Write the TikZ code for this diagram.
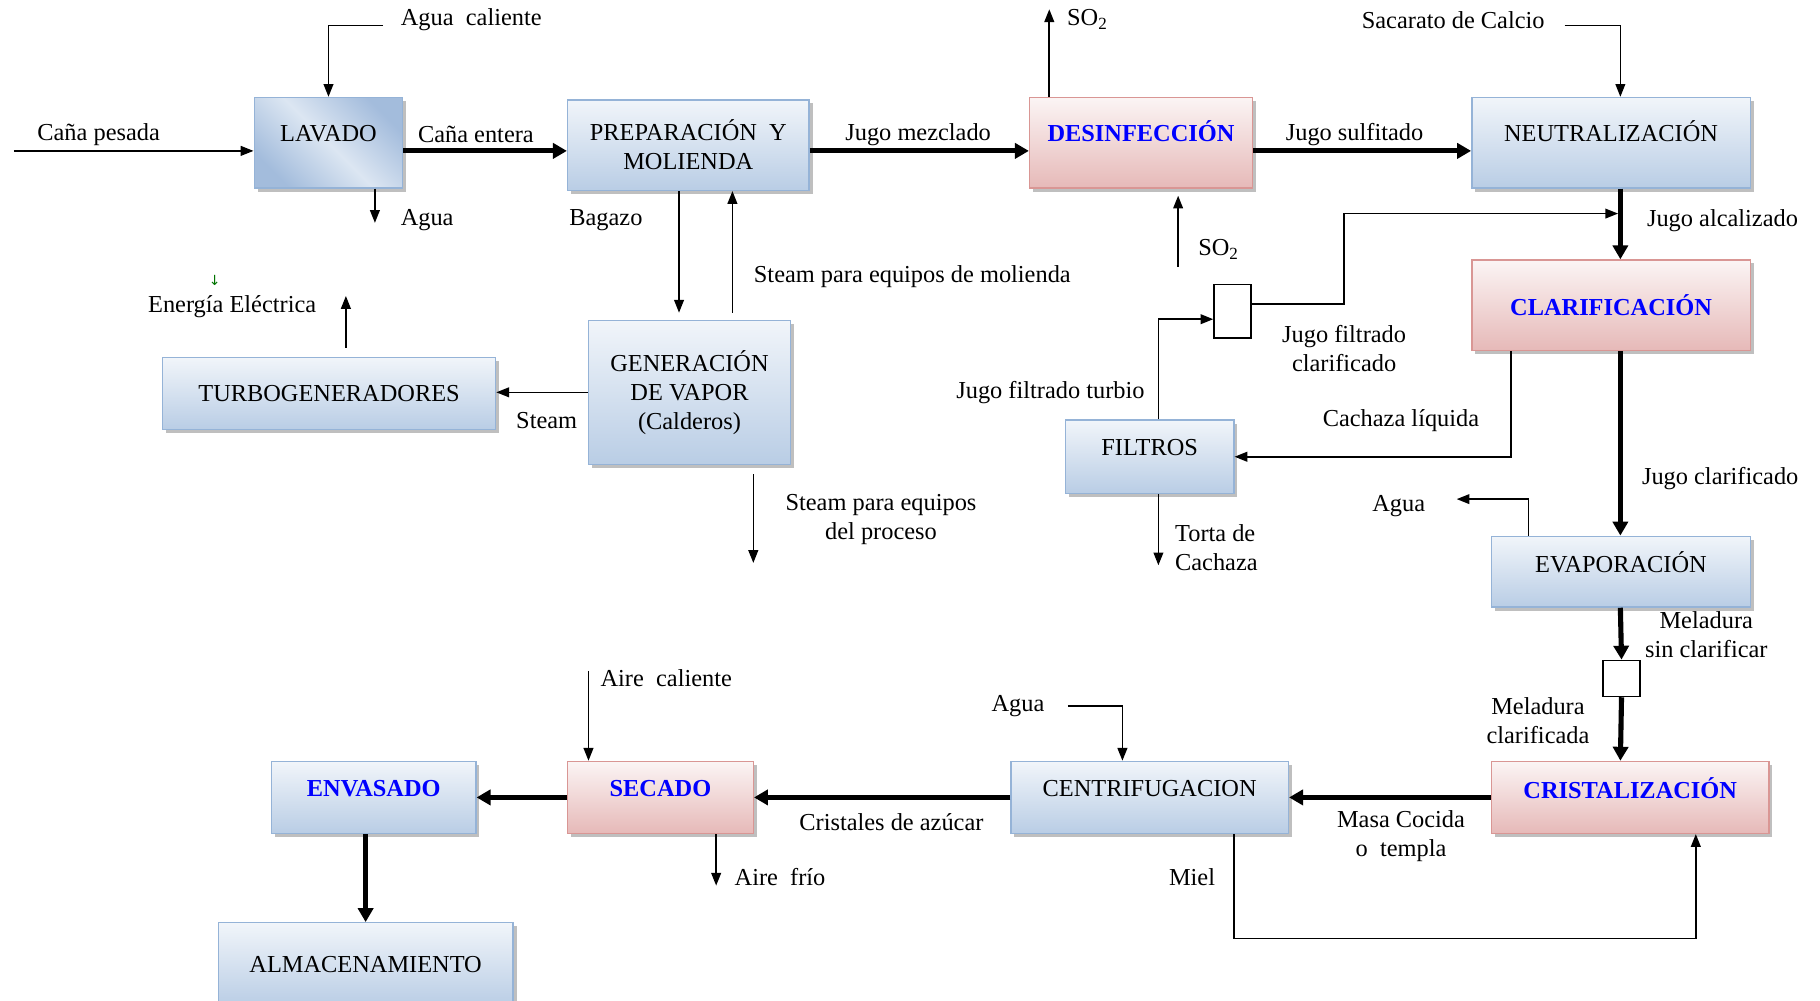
\documentclass[tikz,border=0pt]{standalone}
\usepackage{fontspec}
\setmainfont{Liberation Serif}
\newfontfamily\symfont{DejaVu Sans}
\usepackage{xcolor}
\usepackage{tikz}
\usetikzlibrary{calc}
\usetikzlibrary{shadows}
\usetikzlibrary{arrows.meta}

\definecolor{boxblue}{HTML}{B9CDE5}
\definecolor{lineblue}{HTML}{95B3D7}
\definecolor{boxpink}{HTML}{E6B9B8}
\definecolor{linepink}{HTML}{D99694}
\definecolor{washlight}{HTML}{DCE6F2}
\definecolor{washdark}{HTML}{A3BCDC}

\begin{document}
\begin{tikzpicture}[x=0.5pt, y=-0.5pt, font=\fontsize{10.5}{12.5}\selectfont]
        \tikzstyle{proc} = [rectangle, draw=lineblue, line width=0.6pt, top color=white!80!boxblue, bottom color=boxblue, drop shadow={shadow xshift=1.5pt, shadow yshift=-1.5pt, fill=black!50, opacity=0.5}, align=center, inner sep=0pt]
        \tikzstyle{hot} = [proc, draw=linepink, top color=white!85!boxpink, bottom color=boxpink]
        \tikzstyle{key} = [text=blue, font=\fontsize{10.5}{12.5}\selectfont\bfseries]
        \tikzstyle{lift} = [text depth=8pt]
        \tikzstyle{mixer} = [rectangle, draw, line width=0.7pt, fill=white, inner sep=0pt]
        \tikzstyle{flow} = [-{Triangle[length=5.5pt,width=4.2pt]}, line width=0.7pt]
        \tikzstyle{thickflow} = [-{Triangle[length=6pt,width=6.5pt]}, line width=2.2pt]
        \tikzstyle{lbl} = [inner sep=0pt, align=center]

        \useasboundingbox (0,0) rectangle (1568,862);

        % process boxes
        \node[proc, lift, top color=washdark, bottom color=washdark, middle color=washlight, shading angle=-45, minimum width=64pt, minimum height=39pt] (lavado) at (283,123) {LAVADO};
        \node[proc, minimum width=104pt, minimum height=39pt] (prep) at (593,125) {PREPARACIÓN\ \ Y\\MOLIENDA};
        \node[hot, key, lift, text depth=10pt, minimum width=96pt, minimum height=39pt] (desinf) at (983,123) {DESINFECCIÓN};
        \node[proc, lift, text depth=10pt, minimum width=120pt, minimum height=39pt] (neutral) at (1388,123) {NEUTRALIZACIÓN};
        \node[hot, key, minimum width=120pt, minimum height=39pt] (clarif) at (1388,263) {CLARIFICACIÓN};
        \node[proc, minimum width=143.5pt, minimum height=31pt] (turbo) at (283.5,339) {TURBOGENERADORES};
        \node[proc, minimum width=87pt, minimum height=62pt] (gen) at (594,338) {GENERACIÓN\\DE VAPOR\\(Calderos)};
        \node[proc, lift, minimum width=72.5pt, minimum height=31.5pt] (filtros) at (990.5,393.5) {FILTROS};
        \node[proc, lift, minimum width=111.5pt, minimum height=30.5pt] (evap) at (1396.5,492.5) {EVAPORACIÓN};
        \node[hot, key, lift, minimum width=119.5pt, minimum height=31pt] (crist) at (1404.5,687) {CRISTALIZACIÓN};
        \node[proc, lift, minimum width=119.5pt, minimum height=31pt] (centrif) at (990.5,687) {CENTRIFUGACION};
        \node[hot, key, lift, minimum width=80pt, minimum height=31pt] (secado) at (569,687) {SECADO};
        \node[proc, key, lift, minimum width=88pt, minimum height=31pt] (envasado) at (322,687) {ENVASADO};
        \node[proc, minimum width=127pt, minimum height=36pt] (almacen) at (315,831) {ALMACENAMIENTO};

        % mixing boxes
        \node[mixer, minimum width=16pt, minimum height=23pt] (mix1) at (1062,268) {};
        \node[mixer, minimum width=16pt, minimum height=15.5pt] (mix2) at (1397,584.5) {};

        % free ends
        \coordinate (spine) at (1396,0);
        \coordinate (caneIn) at (12,130);
        \coordinate (hotWater) at (330,22);
        \coordinate (washOut) at (323,192);
        \coordinate (so2Out) at (904,8);
        \coordinate (sacar) at (1348,22);
        \coordinate (bendA) at (1158,184);
        \coordinate (so2In) at (1015,230);
        \coordinate (torta) at (998,487);
        \coordinate (evapWater) at (1255,430);
        \coordinate (centWater) at (920,608);
        \coordinate (hotAir) at (507,578);
        \coordinate (coldAir) at (617,763);
        \coordinate (bagazo) at (585,0);
        \coordinate (steamUp) at (631,0);
        \coordinate (power) at (298,255);
        \coordinate (procSteam) at (649,485);

        % main line
        \draw[thickflow] ($(lavado.east)+(0,7)$) -- ($(prep.west)+(0,5)$);
        \draw[thickflow] ($(prep.east)+(0,5)$) -- ($(desinf.west)+(0,7)$);
        \draw[thickflow] ($(desinf.east)+(0,7)$) -- ($(neutral.west)+(0,7)$);
        \draw[thickflow] (spine |- neutral.south) -- (spine |- clarif.north);
        \draw[thickflow] (spine |- clarif.south) -- (spine |- evap.north);
        \draw[thickflow] (spine |- evap.south) -- (mix2.north);
        \draw[thickflow] (mix2.south) -- (spine |- crist.north);
        \draw[thickflow] (crist.west) -- (centrif.east);
        \draw[thickflow] (centrif.west) -- (secado.east);
        \draw[thickflow] (secado.west) -- (envasado.east);
        \draw[thickflow] (almacen.north |- envasado.south) -- (almacen.north);

        % side streams
        \draw[flow] (caneIn) -- (caneIn -| lavado.west);
        \draw[flow] (hotWater) -| (lavado.north);
        \draw[flow] (washOut |- lavado.south) -- (washOut);
        \draw[flow] (so2Out |- desinf.north) -- (so2Out);
        \draw[flow] (sacar) -| (spine |- neutral.north);
        \draw[flow] ($(mix1.east)+(0,-6)$) -| (bendA) -- ($(spine |- bendA)+(-2,0)$);
        \draw[flow, shorten >=3pt] (so2In) -- (so2In |- desinf.south);
        \draw[flow] (torta |- filtros.north) |- ($(mix1.west)+(0,7)$);
        \draw[flow] ($(clarif.south)+(-86,0)$) |- (filtros.east);
        \draw[flow] (torta |- filtros.south) -- (torta);
        \draw[flow] ($(evap.north)+(-79.5,0)$) |- (evapWater);
        \draw[flow] ($(centrif.south)+(72.5,0)$) -- ++(0,90) -| ($(crist.south)+(56.5,0)$);
        \draw[flow] (centWater) -| ($(centrif.north)+(-23.5,0)$);
        \draw[flow] (hotAir) -- (hotAir |- secado.north);
        \draw[flow] (coldAir |- secado.south) -- (coldAir);
        \draw[flow, shorten >=3pt] (bagazo |- prep.south) -- (bagazo |- gen.north);
        \draw[flow, shorten <=3pt] (steamUp |- gen.north) -- (steamUp |- prep.south);
        \draw[flow] (gen.west) -- (gen.west -| turbo.east);
        \draw[flow, shorten <=4pt] (power |- turbo.north) -- (power);
        \draw[flow, shorten <=4pt] (procSteam |- gen.south) -- (procSteam);

        % labels
        \node[lbl] (lCane) at (85,116) {Caña pesada};
        \node[lbl] (lHotWater) at (406,17) {Agua\ \ caliente};
        \node[lbl] (lWashOut) at (368,190) {Agua};
        \node[lbl] (lWhole) at (410,116) {Caña entera};
        \node[lbl] (lBagazo) at (522,190) {Bagazo};
        \node[lbl] (lMixed) at (791,116) {Jugo mezclado};
        \node[lbl] (lSo2Out) at (937,17) {SO\textsubscript{2}};
        \node[lbl] (lSulf) at (1167,116) {Jugo sulfitado};
        \node[lbl] (lSacar) at (1252,17) {Sacarato de Calcio};
        \node[lbl] (lAlcal) at (1484,190) {Jugo alcalizado};
        \node[lbl] (lSo2In) at (1050,215) {SO\textsubscript{2}};
        \node[lbl] (lMillSteam) at (786,238) {Steam para equipos de molienda};
        \node[lbl] (lPower) at (200,264) {Energía Eléctrica};
        \node[lbl, text=green!45!black] (lTick) at (185,242) {\symfont\fontsize{6}{6}\selectfont ↓};
        \node[lbl] (lClearJuice) at (1158,300) {Jugo filtrado\\clarificado};
        \node[lbl] (lTurbid) at (905,338) {Jugo filtrado turbio};
        \node[lbl] (lCachaza) at (1207,362) {Cachaza líquida};
        \node[lbl] (lSteam) at (471,362) {Steam};
        \node[lbl] (lProcSteam) at (759,448) {Steam para equipos\\del proceso};
        \node[lbl] (lClarified) at (1482,412) {Jugo clarificado};
        \node[lbl] (lEvapWater) at (1205,436) {Agua};
        \node[lbl, anchor=west, align=left] (lTorta) at (1012,472) {Torta de\\Cachaza};
        \node[lbl] (lRawMel) at (1470,547) {Meladura\\sin clarificar};
        \node[lbl] (lClearMel) at (1325,621) {Meladura\\clarificada};
        \node[lbl] (lCentWater) at (877,608) {Agua};
        \node[lbl] (lHotAir) at (574,584) {Aire\ \ caliente};
        \node[lbl] (lMasa) at (1207,720) {Masa Cocida\\o\ \ templa};
        \node[lbl] (lCrystals) at (768,708) {Cristales de azúcar};
        \node[lbl] (lColdAir) at (672,756) {Aire\ \ frío};
        \node[lbl] (lMiel) at (1027,756) {Miel};
\end{tikzpicture}
\end{document}
